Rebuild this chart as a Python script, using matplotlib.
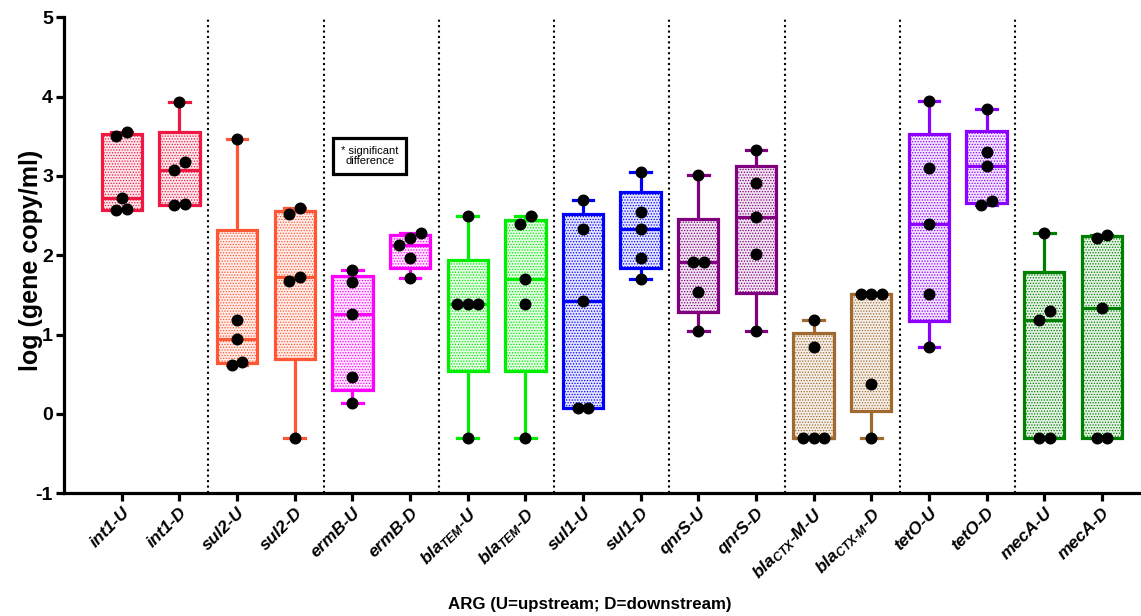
import numpy as np
import matplotlib
matplotlib.use("Agg")
import matplotlib.pyplot as plt

# ---- data: log10 gene copies per ml, five samples per site ----
int1_U = [3.50, 3.55, 2.72, 2.57, 2.58]
int1_D = [3.93, 3.18, 3.07, 2.63, 2.65]
sul2_U = [3.47, 1.18, 0.94, 0.62, 0.66]
sul2_D = [2.60, 2.52, 1.73, 1.68, -0.30]
ermB_U = [1.81, 1.66, 1.26, 0.46, 0.14]
ermB_D = [2.28, 2.22, 2.13, 1.96, 1.71]
blaTEM_U = [2.50, 1.39, 1.39, 1.39, -0.30]
blaTEM_D = [2.50, 2.40, 1.70, 1.39, -0.30]
sul1_U = [2.70, 2.33, 1.42, 0.07, 0.07]
sul1_D = [3.05, 2.54, 2.33, 1.97, 1.70]
qnrS_U = [3.01, 1.91, 1.91, 1.54, 1.04]
qnrS_D = [3.33, 2.91, 2.48, 2.02, 1.04]
blaCTX_U = [1.19, 0.84, -0.30, -0.30, -0.30]
blaCTX_D = [1.51, 1.51, 1.51, 0.38, -0.30]
tetO_U = [3.95, 3.10, 2.40, 1.51, 0.84]
tetO_D = [3.84, 3.30, 3.13, 2.69, 2.63]
mecA_U = [2.28, 1.30, 1.19, -0.30, -0.30]
mecA_D = [2.26, 2.22, 1.33, -0.30, -0.30]

tick_labels = [
    "int1-U", "int1-D", "sul2-U", "sul2-D", "ermB-U", "ermB-D",
    r"bla$_{TEM}$-U", r"bla$_{TEM}$-D", "sul1-U", "sul1-D",
    "qnrS-U", "qnrS-D", r"bla$_{CTX}$-M-U", r"bla$_{CTX\text{-}M}$-D",
    "tetO-U", "tetO-D", "mecA-U", "mecA-D",
]
gene_colors = ["#EE1842", "#FF5733", "#FF00FF", "#00EE00", "#0000FF",
               "#800080", "#A0692F", "#8B00FF", "#008000"]

series = [int1_U, int1_D, sul2_U, sul2_D, ermB_U, ermB_D,
          blaTEM_U, blaTEM_D, sul1_U, sul1_D, qnrS_U, qnrS_D,
          blaCTX_U, blaCTX_D, tetO_U, tetO_D, mecA_U, mecA_D]

plt.rcParams["font.family"] = ["Liberation Sans", "DejaVu Sans"]
plt.rcParams["mathtext.fontset"] = "custom"
plt.rcParams["mathtext.rm"] = "Liberation Sans:bold:italic"
plt.rcParams["mathtext.it"] = "Liberation Sans:bold:italic"
plt.rcParams["mathtext.bf"] = "Liberation Sans:bold:italic"
plt.rcParams["hatch.linewidth"] = 0.6

W, H = 1141, 616
fig = plt.figure(figsize=(W / 100, H / 100), dpi=100)
ax = fig.add_axes([64.15 / W, (H - 493.3) / H, (W - 64.15) / W, (493.3 - 17.3) / H])
ax.set_xlim(0, (W - 64.15) / 57.65)
ax.set_ylim(-1, 5)

positions = np.arange(1, len(series) + 1)

# box statistics: Prism-style quartiles, whiskers at min / max
stats = []
for vals in series:
    v = np.asarray(vals, dtype=float)
    q1, med, q3 = np.percentile(v, [25, 50, 75], method="weibull")
    stats.append(dict(med=med, q1=q1, q3=q3, whislo=v.min(), whishi=v.max(), fliers=[]))

lw = 2.3
art = ax.bxp(stats, positions=positions, widths=0.70, capwidths=0.36,
             patch_artist=True, showfliers=False,
             boxprops=dict(linewidth=lw), medianprops=dict(linewidth=lw),
             whiskerprops=dict(linewidth=lw), capprops=dict(linewidth=lw))

for i, box in enumerate(art["boxes"]):
    c = gene_colors[i // 2]
    rgb = matplotlib.colors.to_rgb(c)
    box.set_facecolor((*rgb, 0.10))
    box.set_edgecolor(c)
    box.set_hatch("......")
    box.set_zorder(2)
    art["medians"][i].set_color(c)
    art["medians"][i].set_zorder(3)
    for k in (2 * i, 2 * i + 1):
        art["whiskers"][k].set_color(c)
        art["caps"][k].set_color(c)
        art["whiskers"][k].set_solid_capstyle("butt")

# scatter the individual samples, spreading overlapping points sideways
fig.canvas.draw()
x0, y0 = ax.transData.transform((0, 0))
x1, y1 = ax.transData.transform((1, 1))
px_x, px_y = x1 - x0, y1 - y0
dot_px = 10.7
for pos, vals in zip(positions, series):
    v = np.sort(np.asarray(vals, dtype=float))
    clusters = [[v[0]]]
    for val in v[1:]:
        if (val - clusters[-1][-1]) * px_y < 10.0:
            clusters[-1].append(val)
        else:
            clusters.append([val])
    xs, ys = [], []
    for cl in clusters:
        k = len(cl)
        for j, val in enumerate(cl):
            xs.append(pos + (j - (k - 1) / 2) * dot_px / px_x)
            ys.append(val)
    ax.plot(xs, ys, "o", color="black", markersize=7.6, zorder=5, clip_on=False)

# dotted separators between genes
for s in np.arange(2.5, len(series), 2):
    ax.axvline(s, ymin=0, ymax=1, color="black", linestyle=(0, (1, 1.6)),
               linewidth=1.5, zorder=1)

for side in ("top", "right"):
    ax.spines[side].set_visible(False)
for side in ("left", "bottom"):
    ax.spines[side].set_linewidth(2.3)

ax.set_yticks(np.arange(-1, 6, 1))
ax.set_yticklabels([str(t) for t in range(-1, 6)], fontsize=14, fontweight="bold")
ax.tick_params(axis="y", length=6, width=2.3, pad=2)
ax.set_xticks(positions)
ax.set_xticklabels(tick_labels, rotation=45, ha="right", rotation_mode="anchor",
                   fontsize=12.5, fontweight="bold", fontstyle="italic")
ax.tick_params(axis="x", length=5.5, width=2.3, pad=3)

fig.text(31 / W, 1 - 260 / H, "log (gene copy/ml)", fontsize=18, fontweight="bold",
         rotation=90, ha="center", va="center")
fig.text(590 / W, 1 - 605 / H, "ARG (U=upstream; D=downstream)", fontsize=12.2,
         fontweight="bold", ha="center", va="center")

ax.text(5.30, 3.25, "* significant\ndifference", fontsize=8, ha="center", va="center",
        linespacing=1.0, zorder=6,
        bbox=dict(boxstyle="square,pad=0.7", facecolor="white", edgecolor="black",
                  linewidth=2.3))

fig.savefig("out.png", dpi=100)
